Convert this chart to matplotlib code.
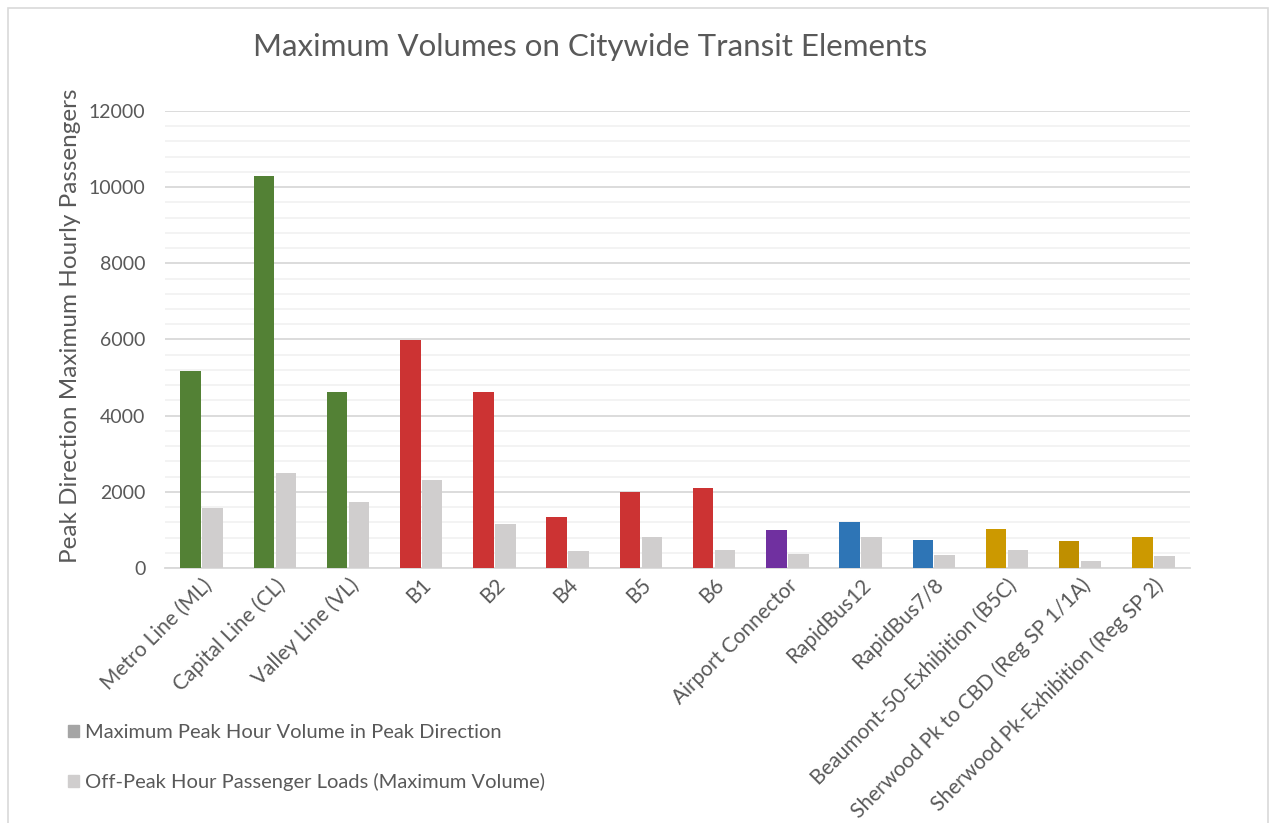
import numpy as np
import matplotlib
matplotlib.use('Agg')
import matplotlib.pyplot as plt
from matplotlib.patches import Patch, Rectangle
from matplotlib.ticker import MultipleLocator

plt.rcParams['font.family'] = ['Lato', 'DejaVu Sans']

categories = ['Metro Line (ML)', 'Capital Line (CL)', 'Valley Line (VL)', 'B1', 'B2', 'B4', 'B5', 'B6',
              'Airport Connector', 'RapidBus12', 'RapidBus7/8', 'Beaumont-50-Exhibition (B5C)',
              'Sherwood Pk to CBD (Reg SP 1/1A)', 'Sherwood Pk-Exhibition (Reg SP 2)']
peak = [5170, 10300, 4620, 5980, 4620, 1340, 1990, 2100, 990, 1200, 730, 1020, 700, 815]
offpeak = [1580, 2490, 1725, 2300, 1150, 450, 825, 470, 380, 825, 335, 465, 185, 320]
peak_colors = ['#538135', '#538135', '#538135',
               '#CC3333', '#CC3333', '#CC3333', '#CC3333', '#CC3333',
               '#7030A0', '#2E75B6', '#2E75B6',
               '#CC9900', '#BF8F00', '#CC9900']
legend_labels = ['Maximum Peak Hour Volume in Peak Direction',
                 'Off-Peak Hour Passenger Loads (Maximum Volume)']

txt = '#595959'

fig = plt.figure(figsize=(12.75, 8.23), dpi=100)
fig.patches.append(Rectangle((8/1275, -0.1), 1260/1275, 1.1 - 8/823, transform=fig.transFigure,
                             fill=False, edgecolor='#D9D9D9', lw=1.2))
ax = fig.add_axes([165/1275, 1 - 568/823, (1190-165)/1275, (568-111)/823])

x = np.arange(len(categories))
w = 0.28
ax.bar(x - 0.15, peak, width=w, color=peak_colors, zorder=3)
ax.bar(x + 0.15, offpeak, width=w, color='#D0CECE', zorder=3)

ax.set_xlim(-0.5, len(categories) - 0.5)
ax.set_ylim(0, 12000)
ax.yaxis.set_major_locator(MultipleLocator(2000))
ax.yaxis.set_minor_locator(MultipleLocator(400))
ax.grid(axis='y', which='major', color='#D9D9D9', lw=1.3, zorder=0)
ax.grid(axis='y', which='minor', color='#F2F2F2', lw=1.3, zorder=0)
for s in ['top', 'right', 'left']:
    ax.spines[s].set_visible(False)
ax.spines['bottom'].set_color('#D9D9D9')
ax.spines['bottom'].set_linewidth(1.3)
ax.tick_params(axis='both', which='both', length=0, colors=txt)
ax.tick_params(axis='y', pad=14, labelsize=14)
ax.tick_params(axis='x', pad=5, labelsize=15)
ax.set_xticks(x)
ax.set_xticklabels(categories, rotation=45, ha='right', rotation_mode='anchor')
ax.set_ylabel('Peak Direction Maximum Hourly Passengers', fontsize=17.5, color=txt)
ax.yaxis.set_label_coords(-0.082, 0.53)

fig.text(590/1275, 1 - 47/823, 'Maximum Volumes on Citywide Transit Elements',
         ha='center', va='center', fontsize=22.5, color=txt)

handles = [Patch(color='#A5A5A5'), Patch(color='#D0CECE')]
fig.legend(handles, legend_labels, loc='upper left', bbox_to_anchor=(50/1275, 1 - 706/823),
           frameon=False, fontsize=14.5, labelcolor=txt, handlelength=0.55, handleheight=0.55,
           handletextpad=0.3, labelspacing=1.6)

fig.savefig('out.png', dpi=100)
